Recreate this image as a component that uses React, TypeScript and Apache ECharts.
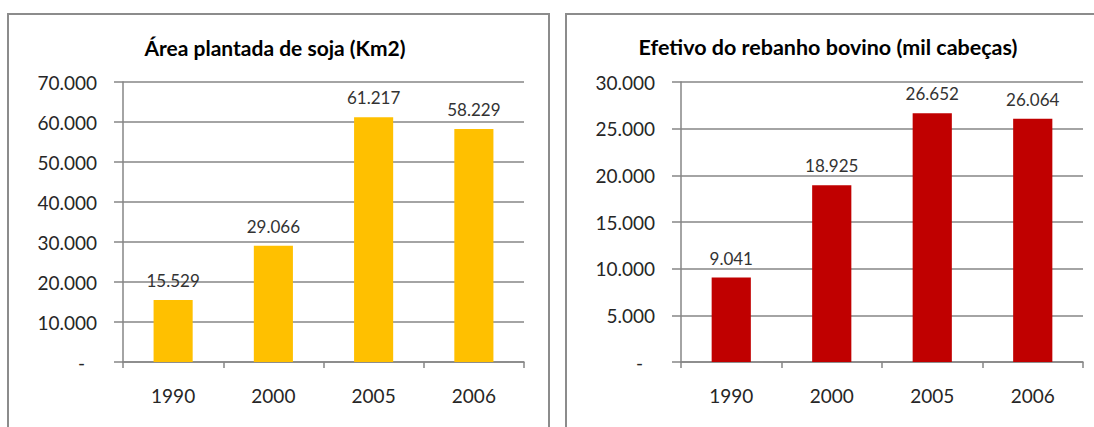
import React, { useEffect, useRef } from "react";
import * as echarts from "echarts";

const categories = ["1990", "2000", "2005", "2006"];
const sojaValues = [15529, 29066, 61217, 58229];
const bovinoValues = [9041, 18925, 26652, 26064];
const titles = ["Área plantada de soja (Km2)", "Efetivo do rebanho bovino (mil cabeças)"];

const FONT = "Lato, 'Open Sans', sans-serif";
const fmt = (v: number) => (v === 0 ? "-" : String(Math.round(v)).replace(/\B(?=(\d{3})+(?!\d))/g, "."));
const fmtAxis = (v: number) => (v === 0 ? "{z|-}" : fmt(v));

export default function App() {
  const ref = useRef<HTMLDivElement>(null);
  useEffect(() => {
    if (!ref.current) return;
    const chart = echarts.init(ref.current, undefined, { renderer: "svg" });
    const gridLine = "#868686";
    const mkX = (gi: number) => ({
      type: "category" as const,
      gridIndex: gi,
      data: categories,
      boundaryGap: true,
      axisLine: { show: true, lineStyle: { color: gridLine, width: 1.5 } },
      axisTick: { show: true, alignWithLabel: false, length: 6, lineStyle: { color: gridLine, width: 1.5 } },
      axisLabel: { fontFamily: FONT, fontSize: 19, color: "#262626", margin: 24 },
    });
    const mkY = (gi: number, max: number, interval: number) => ({
      type: "value" as const,
      gridIndex: gi,
      min: 0,
      max,
      interval,
      axisLine: { show: true, lineStyle: { color: gridLine, width: 1.5 } },
      axisTick: { show: true, length: 9, lineStyle: { color: gridLine, width: 1.5 } },
      splitLine: { show: true, lineStyle: { color: gridLine, width: 1.5 } },
      axisLabel: {
        fontFamily: FONT,
        fontSize: 19,
        color: "#262626",
        margin: 26,
        formatter: fmtAxis,
        rich: {
          z: { fontFamily: FONT, fontSize: 19, color: "#262626", padding: [0, 12, 0, 0] },
        },
      },
    });
    const label = {
      show: true,
      position: "top" as const,
      distance: 11,
      fontFamily: FONT,
      fontSize: 17,
      color: "#333333",
      formatter: (p: any) => fmt(p.value),
    };
    chart.setOption({
      animation: false,
      backgroundColor: "#ffffff",
      grid: [
        { left: 123, right: 570, top: 82, bottom: 65 },
        { left: 681, right: 11, top: 82, bottom: 65 },
      ],
      xAxis: [mkX(0), mkX(1)],
      yAxis: [mkY(0, 70000, 10000), mkY(1, 30000, 5000)],
      series: [
        {
          type: "bar",
          xAxisIndex: 0,
          yAxisIndex: 0,
          data: sojaValues,
          barWidth: "39%",
          itemStyle: { color: "#FFC000" },
          label,
        },
        {
          type: "bar",
          xAxisIndex: 1,
          yAxisIndex: 1,
          data: bovinoValues,
          barWidth: "39%",
          itemStyle: { color: "#C00000" },
          label,
        },
      ],
      graphic: [
        {
          type: "rect",
          shape: { x: 8, y: 14, width: 541, height: 430 },
          style: { fill: "none", stroke: "#8c8c8c", lineWidth: 2 },
          silent: true,
        },
        {
          type: "rect",
          shape: { x: 566, y: 14, width: 540, height: 430 },
          style: { fill: "none", stroke: "#8c8c8c", lineWidth: 2 },
          silent: true,
        },
        {
          type: "text",
          x: 275,
          y: 47,
          style: {
            text: titles[0],
            fontFamily: FONT,
            fontSize: 21,
            fontWeight: "bold",
            fill: "#000000",
            textAlign: "center",
            textVerticalAlign: "middle",
          },
        },
        {
          type: "text",
          x: 828,
          y: 47,
          style: {
            text: titles[1],
            fontFamily: FONT,
            fontSize: 21.5,
            fontWeight: "bold",
            fill: "#000000",
            textAlign: "center",
            textVerticalAlign: "middle",
          },
        },
      ],
    });
    return () => chart.dispose();
  }, []);
  return (
    <div
      ref={ref}
      style={{ position: "fixed", left: 0, top: 0, width: 1094, height: 427, background: "#fff" }}
    />
  );
}
